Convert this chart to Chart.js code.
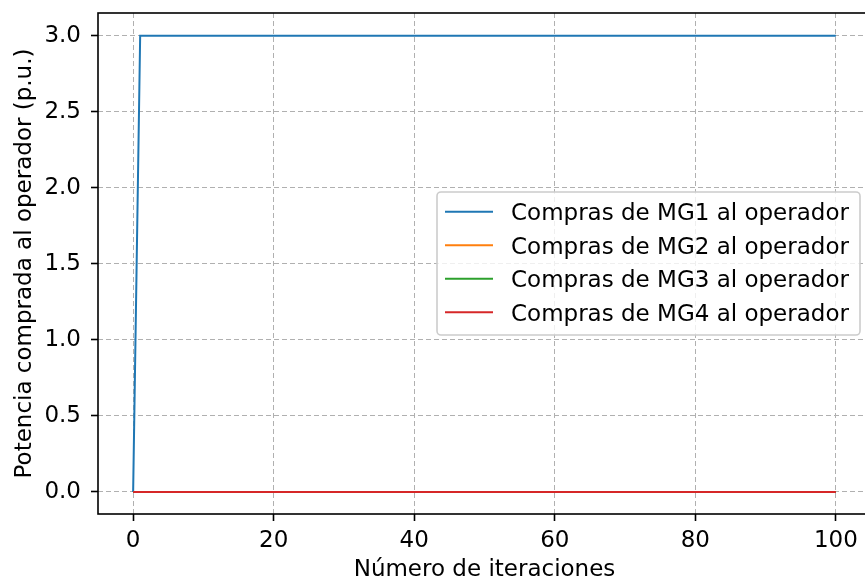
<!DOCTYPE html>
<html>
<head>
<meta charset="utf-8">
<script src="https://cdn.jsdelivr.net/npm/chart.js@4/dist/chart.umd.min.js"></script>
<style>
  html, body { margin: 0; padding: 0; background: #ffffff; overflow: hidden; }
  #wrap { width: 872px; height: 586px; }
</style>
</head>
<body>
<div id="wrap"><canvas id="chart" width="872" height="586"></canvas></div>
<script>
// Iteration index of the negotiation algorithm
const iteraciones = [
  0, 1, 2, 3, 4, 5, 6, 7, 8, 9, 10, 11, 12, 13, 14, 15, 16, 17, 18, 19, 20,
  21, 22, 23, 24, 25, 26, 27, 28, 29, 30, 31, 32, 33, 34, 35, 36, 37, 38, 39, 40,
  41, 42, 43, 44, 45, 46, 47, 48, 49, 50, 51, 52, 53, 54, 55, 56, 57, 58, 59, 60,
  61, 62, 63, 64, 65, 66, 67, 68, 69, 70, 71, 72, 73, 74, 75, 76, 77, 78, 79, 80,
  81, 82, 83, 84, 85, 86, 87, 88, 89, 90, 91, 92, 93, 94, 95, 96, 97, 98, 99, 100
];

// Power bought from the operator by each microgrid (p.u.)
const comprasMG1 = [
  0, 3, 3, 3, 3, 3, 3, 3, 3, 3, 3, 3, 3, 3, 3, 3, 3, 3, 3, 3, 3,
  3, 3, 3, 3, 3, 3, 3, 3, 3, 3, 3, 3, 3, 3, 3, 3, 3, 3, 3, 3,
  3, 3, 3, 3, 3, 3, 3, 3, 3, 3, 3, 3, 3, 3, 3, 3, 3, 3, 3, 3,
  3, 3, 3, 3, 3, 3, 3, 3, 3, 3, 3, 3, 3, 3, 3, 3, 3, 3, 3, 3,
  3, 3, 3, 3, 3, 3, 3, 3, 3, 3, 3, 3, 3, 3, 3, 3, 3, 3, 3, 3
];
const comprasMG2 = [
  0, 0, 0, 0, 0, 0, 0, 0, 0, 0, 0, 0, 0, 0, 0, 0, 0, 0, 0, 0, 0,
  0, 0, 0, 0, 0, 0, 0, 0, 0, 0, 0, 0, 0, 0, 0, 0, 0, 0, 0, 0,
  0, 0, 0, 0, 0, 0, 0, 0, 0, 0, 0, 0, 0, 0, 0, 0, 0, 0, 0, 0,
  0, 0, 0, 0, 0, 0, 0, 0, 0, 0, 0, 0, 0, 0, 0, 0, 0, 0, 0, 0,
  0, 0, 0, 0, 0, 0, 0, 0, 0, 0, 0, 0, 0, 0, 0, 0, 0, 0, 0, 0
];
const comprasMG3 = [
  0, 0, 0, 0, 0, 0, 0, 0, 0, 0, 0, 0, 0, 0, 0, 0, 0, 0, 0, 0, 0,
  0, 0, 0, 0, 0, 0, 0, 0, 0, 0, 0, 0, 0, 0, 0, 0, 0, 0, 0, 0,
  0, 0, 0, 0, 0, 0, 0, 0, 0, 0, 0, 0, 0, 0, 0, 0, 0, 0, 0, 0,
  0, 0, 0, 0, 0, 0, 0, 0, 0, 0, 0, 0, 0, 0, 0, 0, 0, 0, 0, 0,
  0, 0, 0, 0, 0, 0, 0, 0, 0, 0, 0, 0, 0, 0, 0, 0, 0, 0, 0, 0
];
const comprasMG4 = [
  0, 0, 0, 0, 0, 0, 0, 0, 0, 0, 0, 0, 0, 0, 0, 0, 0, 0, 0, 0, 0,
  0, 0, 0, 0, 0, 0, 0, 0, 0, 0, 0, 0, 0, 0, 0, 0, 0, 0, 0, 0,
  0, 0, 0, 0, 0, 0, 0, 0, 0, 0, 0, 0, 0, 0, 0, 0, 0, 0, 0, 0,
  0, 0, 0, 0, 0, 0, 0, 0, 0, 0, 0, 0, 0, 0, 0, 0, 0, 0, 0, 0,
  0, 0, 0, 0, 0, 0, 0, 0, 0, 0, 0, 0, 0, 0, 0, 0, 0, 0, 0, 0
];

const seriesLabels = [
  'Compras de MG1 al operador',
  'Compras de MG2 al operador',
  'Compras de MG3 al operador',
  'Compras de MG4 al operador'
];
const seriesColors = ['#1f77b4', '#ff7f0e', '#2ca02c', '#d62728'];

const xTicks = [0, 20, 40, 60, 80, 100];
const yTicks = [0.0, 0.5, 1.0, 1.5, 2.0, 2.5, 3.0];

const FONT = 'DejaVu Sans';
const FONT_SIZE = 23;

function toPoints(values) {
  return values.map((v, i) => ({ x: iteraciones[i], y: v }));
}

const seriesValues = [comprasMG1, comprasMG2, comprasMG3, comprasMG4];
const datasets = seriesValues.map((vals, i) => ({
  label: seriesLabels[i],
  data: toPoints(vals),
  borderColor: seriesColors[i],
  backgroundColor: seriesColors[i],
  borderWidth: 2,
  pointRadius: 0,
  tension: 0,
  fill: false,
  // later series are painted over earlier ones
  order: seriesValues.length - i
}));

// Frame around the plotting area (all four sides)
const framePlugin = {
  id: 'frame',
  afterDatasetsDraw(chart) {
    const { ctx, chartArea: a } = chart;
    ctx.save();
    ctx.strokeStyle = '#000000';
    ctx.lineWidth = 1.6;
    ctx.strokeRect(a.left, a.top, a.right - a.left, a.bottom - a.top);
    ctx.restore();
  }
};

// Boxed legend placed inside the plotting area
const boxLegendPlugin = {
  id: 'boxLegend',
  afterDraw(chart) {
    const { ctx } = chart;
    const x0 = 437, y0 = 192, w = 423, h = 143, r = 4;
    ctx.save();
    ctx.beginPath();
    ctx.roundRect(x0, y0, w, h, r);
    ctx.fillStyle = 'rgba(255,255,255,0.8)';
    ctx.fill();
    ctx.strokeStyle = '#cccccc';
    ctx.lineWidth = 1.6;
    ctx.stroke();
    ctx.font = FONT_SIZE + 'px "' + FONT + '"';
    ctx.textBaseline = 'alphabetic';
    ctx.textAlign = 'left';
    chart.data.datasets.forEach((ds, i) => {
      const y = 211.7 + i * 33.5;
      ctx.beginPath();
      ctx.strokeStyle = ds.borderColor;
      ctx.lineWidth = 2;
      ctx.moveTo(445, y);
      ctx.lineTo(493, y);
      ctx.stroke();
      ctx.fillStyle = '#000000';
      ctx.fillText(ds.label, 511, y + 8.6);
    });
    ctx.restore();
  }
};

const gridCommon = {
  color: '#b0b0b0',
  lineWidth: 1,
  drawTicks: true,
  tickLength: 7,
  tickColor: '#000000',
  tickWidth: 1.6,
  tickBorderDash: []
};

new Chart(document.getElementById('chart'), {
  type: 'line',
  data: { datasets },
  options: {
    responsive: false,
    animation: false,
    devicePixelRatio: 1,
    layout: { padding: { top: 13, right: 1, left: 0, bottom: 0 } },
    plugins: {
      legend: { display: false },
      tooltip: { enabled: false }
    },
    scales: {
      x: {
        type: 'linear',
        min: -5,
        max: 105,
        grid: gridCommon,
        border: { display: false, dash: [5, 3] },
        afterBuildTicks(scale) { scale.ticks = xTicks.map(v => ({ value: v })); },
        afterFit(scale) {
          scale.height = 72;
          scale.paddingLeft = 0;
          scale.paddingRight = 0;
        },
        ticks: {
          color: '#000000',
          font: { family: FONT, size: FONT_SIZE },
          padding: 6,
          maxRotation: 0,
          callback: v => String(v)
        },
        title: {
          display: true,
          text: 'Número de iteraciones',
          color: '#000000',
          font: { family: FONT, size: FONT_SIZE },
          padding: { top: 0, bottom: 2 }
        }
      },
      y: {
        type: 'linear',
        min: -0.1447,
        max: 3.15,
        grid: gridCommon,
        border: { display: false, dash: [5, 3] },
        afterBuildTicks(scale) { scale.ticks = yTicks.map(v => ({ value: v })); },
        afterFit(scale) {
          scale.width = 98;
          scale.paddingTop = 0;
          scale.paddingBottom = 0;
        },
        ticks: {
          color: '#000000',
          font: { family: FONT, size: FONT_SIZE },
          padding: 10,
          callback: v => Number(v).toFixed(1)
        },
        title: {
          display: true,
          text: 'Potencia comprada al operador (p.u.)',
          color: '#000000',
          font: { family: FONT, size: FONT_SIZE },
          padding: { top: 11, bottom: 0 }
        }
      }
    }
  },
  plugins: [framePlugin, boxLegendPlugin]
});
</script>
</body>
</html>
